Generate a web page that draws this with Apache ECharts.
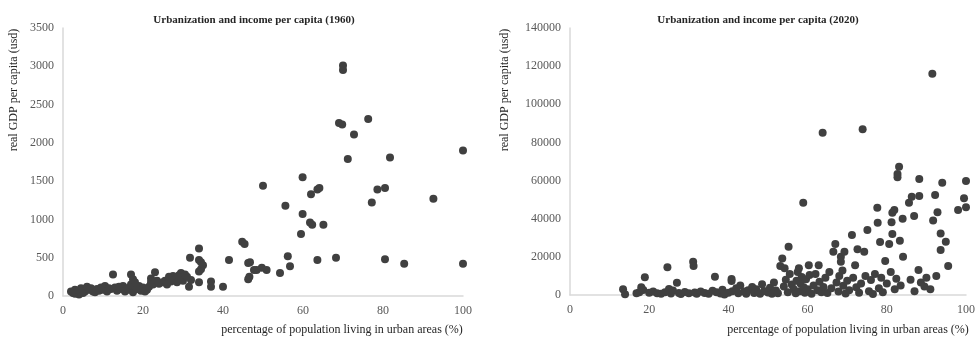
<!DOCTYPE html>
<html>
<head>
<meta charset="utf-8">
<script src="https://cdn.jsdelivr.net/npm/echarts@6/dist/echarts.min.js"></script>
<style>
  html, body { margin: 0; padding: 0; background: #fff; }
  #chart { width: 978px; height: 338px; }
</style>
</head>
<body>
<div id="chart"></div>
<script>
// [urban %, real GDP per capita (usd)]
const points1960 = [
  [2,60],[2.5,40],[3,80],[3,30],[3.5,50],[4,20],[4,70],[4.5,100],[5,40],[5,90],
  [5.5,60],[6,120],[6.5,80],[7,100],[7.5,60],[8,50],[8.5,90],[9,70],[9.5,110],[10,80],
  [10.5,130],[11,60],[11.5,100],[12,90],[12.5,280],[13,110],[13.5,70],[14,120],[14.5,90],[15,130],
  [15.5,60],[16,100],[16.5,80],[17,150],[17,280],[17.5,220],[17.5,50],[18,120],[18,180],[18.5,90],
  [19,130],[19.5,70],[20,110],[20.5,60],[21,80],[21.5,120],[22,180],[22,230],[22.5,150],[23,310],
  [23.5,200],[24,160],[25,180],[25.5,200],[26,150],[26.5,250],[27,190],[27.5,260],[28,220],[28.5,180],
  [29,270],[29.5,300],[30,240],[30,200],[30.5,280],[31,250],[31.5,120],[31.75,500],[32,210],[34,620],
  [34,470],[34.5,440],[35,400],[34.5,350],[34,180],[34,320],[37,190],[37,120],[40,120],[41.5,470],
  [44.8,710],[45.4,680],[46.3,430],[46.6,250],[46.3,220],[46.75,440],[47.75,340],[48.4,340],[49.7,370],[50.9,340],
  [50,1440],[54.25,300],[55.6,1180],[56.2,520],[56.75,390],[59.5,810],[59.9,1070],[59.9,1550],[61.75,960],[62.3,930],
  [62,1330],[63.6,1390],[64.1,1410],[65.1,930],[63.6,470],[68.25,500],[69,2260],[69.8,2240],[70,3010],[70,2950],
  [71.2,1790],[72.75,2110],[76.3,2310],[77.2,1220],[78.6,1390],[80.5,1410],[80.5,480],[81.75,1810],[85.3,420],[92.6,1270],
  [100,1900],[100,420]
];

const points2020 = [
  [13.4,3000],[13.9,400],[16.8,900],[17.5,1500],[18,4000],[18.5,2600],[18.9,9300],[20,1200],[21,1800],[22,900],
  [23,600],[24,1500],[24.6,14500],[25,3200],[25.5,800],[26,2400],[27,6400],[27.5,1100],[28,500],[29,1600],
  [30,900],[31.1,17500],[31.2,15200],[31.5,1300],[32,700],[33,1900],[34,1000],[35,600],[36,2200],[36.6,9600],
  [37,1500],[38,800],[38.5,2700],[39,300],[40,1200],[40.8,8400],[40.8,7300],[41,2000],[42,3500],[42.5,900],
  [43,5000],[44,1800],[44.5,600],[45,2500],[46,4200],[46.5,1000],[47,3000],[48,700],[48.5,5600],[49,2100],
  [50,1300],[50.5,3800],[51,600],[51.5,6500],[52,2400],[52.5,900],[53.1,15200],[53.6,19200],[54.2,14000],[54,4500],
  [54.5,8000],[55,1500],[55.2,25300],[55.5,11000],[56,5500],[56.5,3000],[57,900],[57.2,7500],[57.5,12000],[57.8,14000],
  [58,2000],[58.2,6000],[58.5,9500],[58.9,48400],[59,4000],[59.3,1200],[59.6,8200],[60,3000],[60.3,15600],[60.5,10500],
  [61,600],[61.5,5000],[62,11000],[62.5,2500],[62.8,15600],[63,7000],[63.5,1500],[63.8,85100],[64,4200],[64.5,9000],
  [65,1000],[65.5,12000],[66,3500],[66.5,22700],[67,26700],[67.3,6500],[67.8,1800],[68,10000],[68.4,20100],[68.4,17500],
  [68.8,12800],[69,4800],[69.3,22700],[69.6,800],[70,7500],[70.5,2500],[71.2,31500],[71.5,9000],[72,15600],[72.3,4000],
  [72.6,24000],[73,1200],[73.5,6000],[73.9,86900],[74.3,22700],[74.6,10000],[75.1,34100],[75.5,2000],[76,7800],[76.5,500],
  [77,11000],[77.6,45800],[77.7,37900],[78,3500],[78.3,27800],[78.6,9000],[79,1500],[79.6,17800],[80,6000],[80.6,26700],
  [81,12100],[81.2,38100],[81.4,43100],[81.4,32000],[81.9,44600],[82,3000],[82.4,8500],[82.7,63400],[82.7,61700],[83.1,67300],
  [83.3,28500],[83.5,5000],[84,40000],[84.1,20100],[85.6,48400],[86,8000],[86.3,51500],[86.9,41400],[87,2000],[88,13100],
  [88.2,51900],[88.2,60800],[88.6,6500],[89.5,4500],[90,9000],[91,3000],[91.5,116000],[91.7,39000],[92.2,52400],[92.5,10000],
  [92.8,43400],[93.6,32300],[93.6,23600],[94,58900],[94.9,27900],[95.5,15200],[98,44600],[99.5,50700],[100,46000],[100,59800]
];

const titles = ['Urbanization and income per capita (1960)', 'Urbanization and income per capita (2020)'];
const xName = 'percentage of population living in urban areas (%)';
const yName = 'real GDP per capita (usd)';

const font = '"Liberation Serif", "Times New Roman", serif';
const axisCol = '#d9d9d9';
const labelCol = '#595959';
const dotCol = '#404040';

const myChart = echarts.init(document.getElementById('chart'));

function xAxis(gridIndex) {
  return {
    type: 'value', gridIndex, min: 0, max: 100, interval: 20,
    axisLine: { lineStyle: { color: axisCol, width: 1.5 } },
    axisTick: { show: false },
    splitLine: { show: false },
    axisLabel: { color: labelCol, fontFamily: font, fontSize: 12, margin: 9, formatter: v => String(v) }
  };
}
function yAxis(gridIndex, max, interval) {
  return {
    type: 'value', gridIndex, min: 0, max, interval,
    axisLine: { show: true, lineStyle: { color: axisCol, width: 1.5 } },
    axisTick: { show: false },
    splitLine: { show: false },
    axisLabel: { color: labelCol, fontFamily: font, fontSize: 12, margin: 9, formatter: v => String(v) }
  };
}
function txt(x, y, text, opts) {
  return Object.assign({
    type: 'text', x, y,
    style: Object.assign({
      text, fill: '#262626', font: '12px ' + font,
      textAlign: 'center', textVerticalAlign: 'middle'
    }, opts && opts.style)
  }, opts && opts.el);
}

const option = {
  backgroundColor: '#fff',
  animation: false,
  grid: [
    { left: 63, right: 515, top: 28, bottom: 42 },
    { left: 570, right: 11, top: 28, bottom: 43 }
  ],
  xAxis: [xAxis(0), xAxis(1)],
  yAxis: [yAxis(0, 3500, 500), yAxis(1, 140000, 20000)],
  series: [
    { type: 'scatter', xAxisIndex: 0, yAxisIndex: 0, data: points1960, symbolSize: 8, itemStyle: { color: dotCol, opacity: 1 } },
    { type: 'scatter', xAxisIndex: 1, yAxisIndex: 1, data: points2020, symbolSize: 8, itemStyle: { color: dotCol, opacity: 1 } }
  ],
  graphic: [
    txt(254, 20, titles[0], { style: { font: 'bold 11px ' + font } }),
    txt(758, 20, titles[1], { style: { font: 'bold 11px ' + font } }),
    txt(342, 330, xName),
    txt(848, 330, xName),
    txt(14, 90, yName, { el: { rotation: Math.PI / 2 } }),
    txt(505, 90, yName, { el: { rotation: Math.PI / 2 } })
  ]
};

myChart.setOption(option);
window.addEventListener('resize', () => myChart.resize());
</script>
</body>
</html>
